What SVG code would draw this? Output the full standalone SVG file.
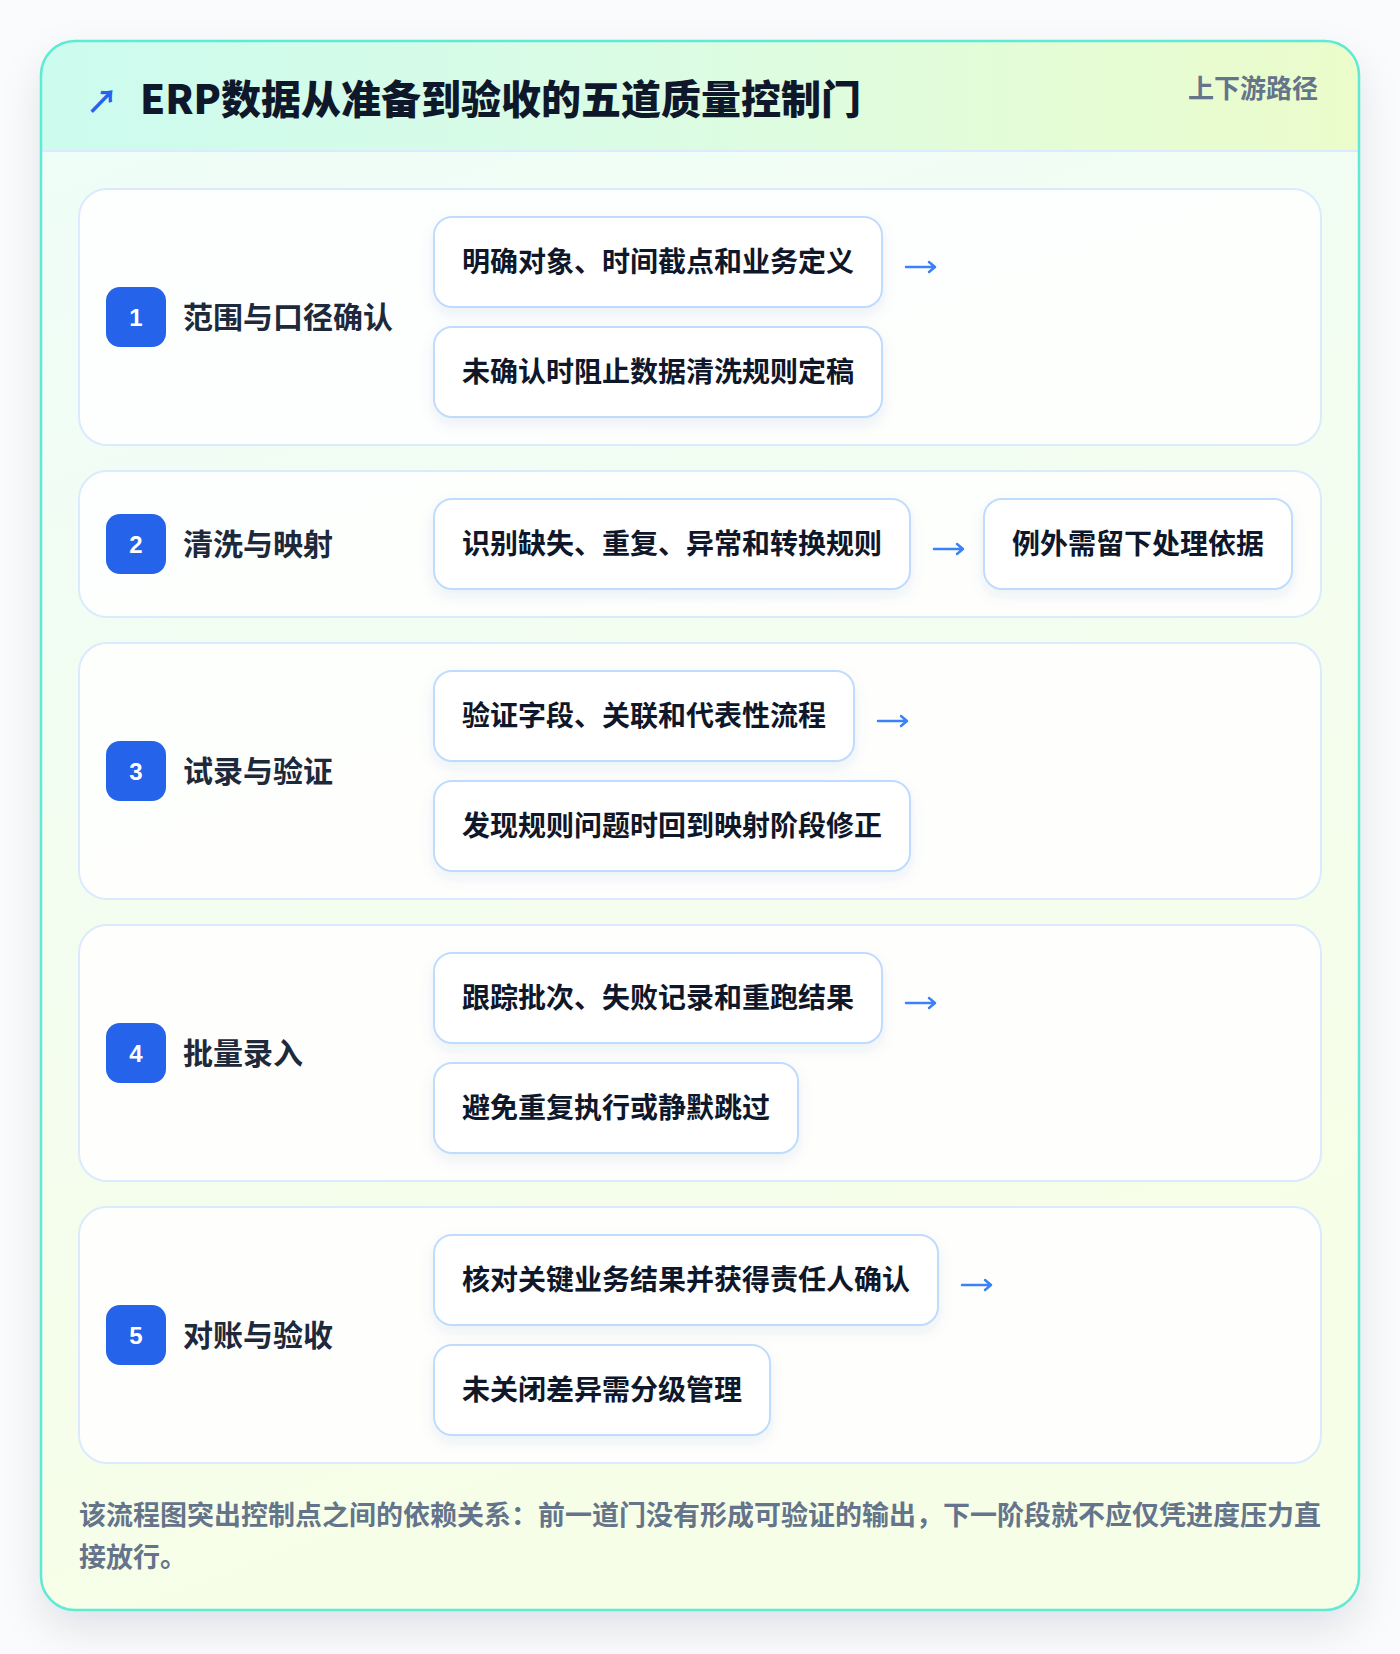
<svg xmlns="http://www.w3.org/2000/svg" width="1400" height="1654" viewBox="0 0 1400 1654">
<defs>
<linearGradient id="hdr" x1="0" y1="0" x2="1" y2="0">
<stop offset="0" stop-color="#ccfbef"/>
<stop offset="0.5" stop-color="#dcfce3"/>
<stop offset="1" stop-color="#ecfccb"/>
</linearGradient>
<linearGradient id="body" x1="0" y1="0" x2="0.3" y2="1">
<stop offset="0" stop-color="#effdf9"/>
<stop offset="1" stop-color="#f7fee7"/>
</linearGradient>
<filter id="cardSh" x="-10%" y="-10%" width="120%" height="120%">
<feDropShadow dx="0" dy="18" stdDeviation="20" flood-color="#0f172a" flood-opacity="0.10"/>
</filter>
<filter id="boxSh" x="-20%" y="-30%" width="140%" height="170%">
<feDropShadow dx="0" dy="6" stdDeviation="7" flood-color="#1e3a8a" flood-opacity="0.08"/>
</filter>
<clipPath id="cardClip"><rect x="41" y="41" width="1318" height="1569" rx="34"/></clipPath>
<style>
.t{font-family:'Liberation Sans','Noto Sans CJK SC',sans-serif;font-weight:700}
.title{font-family:'Noto Sans CJK SC','Liberation Sans',sans-serif;font-size:40px;fill:#0f172a;font-weight:900}
.tag{font-size:26px;fill:#64748b}
.row{fill:#ffffff;fill-opacity:0.85;stroke:#dbeafe;stroke-width:2}
.badge{fill:#2563eb}
.num{font-size:24px;fill:#ffffff;text-anchor:middle;font-weight:900}
.lbl{font-size:30px;fill:#1e293b}
.box{fill:#ffffff;stroke:#bfdbfe;stroke-width:2;filter:url(#boxSh)}
.bt{font-size:28px;fill:#0f172a}
.arr{fill:none;stroke:#3b82f6;stroke-width:2.5;stroke-linecap:round;stroke-linejoin:round}
.foot{font-size:27px;fill:#64748b}
</style>
</defs>
<rect x="0" y="0" width="1400" height="1654" fill="#fafbfc"/>
<g id="card">
<rect x="41" y="41" width="1318" height="1569" rx="34" fill="url(#body)" filter="url(#cardSh)"/>
<g clip-path="url(#cardClip)">
<rect x="41" y="41" width="1318" height="110" fill="url(#hdr)"/>
<line x1="41" y1="151" x2="1359" y2="151" stroke="#dbeafe" stroke-width="2"/>
</g>
<rect x="41" y="41" width="1318" height="1569" rx="34" fill="none" stroke="#5eead4" stroke-width="2.5"/>
</g>
<g id="header">
<text class="t" x="86" y="113" font-size="32" fill="#2563eb">↗</text>
<text class="t title" x="140" y="114">ERP数据从准备到验收的五道质量控制门</text>
<text class="t tag" x="1318" y="98" text-anchor="end">上下游路径</text>
</g>

<g id="step1">
<rect class="row" x="79" y="189" width="1242" height="256" rx="28"/>
<rect class="badge" x="106" y="287" width="60" height="60" rx="14"/>
<text class="t num" x="136" y="326">1</text>
<text class="t lbl" x="183" y="328">范围与口径确认</text>
<g id="step1a"><rect class="box" x="434" y="217" width="448" height="90" rx="18"/>
<text class="t bt" x="462" y="272">明确对象、时间截点和业务定义</text></g>
<g id="step1b"><rect class="box" x="434" y="327" width="448" height="90" rx="18"/>
<text class="t bt" x="462" y="382">未确认时阻止数据清洗规则定稿</text></g>
</g>

<g id="step2">
<rect class="row" x="79" y="471" width="1242" height="146" rx="28"/>
<rect class="badge" x="106" y="514" width="60" height="60" rx="14"/>
<text class="t num" x="136" y="553">2</text>
<text class="t lbl" x="183" y="555">清洗与映射</text>
<g id="step2a"><rect class="box" x="434" y="499" width="476" height="90" rx="18"/>
<text class="t bt" x="462" y="554">识别缺失、重复、异常和转换规则</text></g>
<g id="step2b"><rect class="box" x="984" y="499" width="308" height="90" rx="18"/>
<text class="t bt" x="1012" y="554">例外需留下处理依据</text></g>
</g>

<g id="step3">
<rect class="row" x="79" y="643" width="1242" height="256" rx="28"/>
<rect class="badge" x="106" y="741" width="60" height="60" rx="14"/>
<text class="t num" x="136" y="780">3</text>
<text class="t lbl" x="183" y="782">试录与验证</text>
<g id="step3a"><rect class="box" x="434" y="671" width="420" height="90" rx="18"/>
<text class="t bt" x="462" y="726">验证字段、关联和代表性流程</text></g>
<g id="step3b"><rect class="box" x="434" y="781" width="476" height="90" rx="18"/>
<text class="t bt" x="462" y="836">发现规则问题时回到映射阶段修正</text></g>
</g>

<g id="step4">
<rect class="row" x="79" y="925" width="1242" height="256" rx="28"/>
<rect class="badge" x="106" y="1023" width="60" height="60" rx="14"/>
<text class="t num" x="136" y="1062">4</text>
<text class="t lbl" x="183" y="1064">批量录入</text>
<g id="step4a"><rect class="box" x="434" y="953" width="448" height="90" rx="18"/>
<text class="t bt" x="462" y="1008">跟踪批次、失败记录和重跑结果</text></g>
<g id="step4b"><rect class="box" x="434" y="1063" width="364" height="90" rx="18"/>
<text class="t bt" x="462" y="1118">避免重复执行或静默跳过</text></g>
</g>

<g id="step5">
<rect class="row" x="79" y="1207" width="1242" height="256" rx="28"/>
<rect class="badge" x="106" y="1305" width="60" height="60" rx="14"/>
<text class="t num" x="136" y="1344">5</text>
<text class="t lbl" x="183" y="1346">对账与验收</text>
<g id="step5a"><rect class="box" x="434" y="1235" width="504" height="90" rx="18"/>
<text class="t bt" x="462" y="1290">核对关键业务结果并获得责任人确认</text></g>
<g id="step5b"><rect class="box" x="434" y="1345" width="336" height="90" rx="18"/>
<text class="t bt" x="462" y="1400">未关闭差异需分级管理</text></g>
</g>

<g id="connectors">
<path class="arr" d="M906 267 H935 M929 262 L935 267 L929 272"/>
<path class="arr" d="M934 549 H963 M957 544 L963 549 L957 554"/>
<path class="arr" d="M878 721 H907 M901 716 L907 721 L901 726"/>
<path class="arr" d="M906 1003 H935 M929 998 L935 1003 L929 1008"/>
<path class="arr" d="M962 1285 H991 M985 1280 L991 1285 L985 1290"/>
</g>

<g id="footer">
<text class="t foot" x="79" y="1525">该流程图突出控制点之间的依赖关系：前一道门没有形成可验证的输出，下一阶段就不应仅凭进度压力直</text>
<text class="t foot" x="79" y="1567">接放行。</text>
</g>
</svg>
